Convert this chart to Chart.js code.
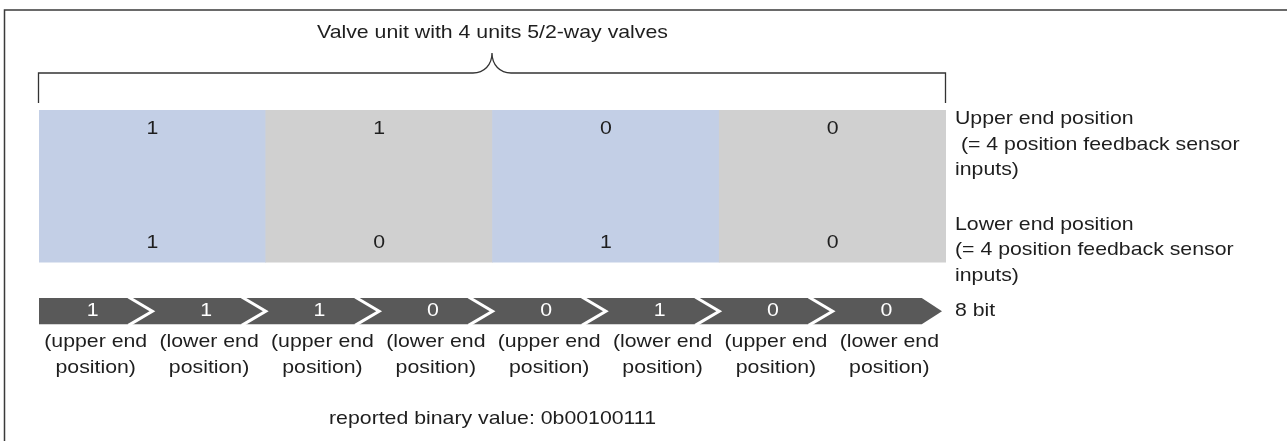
<!DOCTYPE html>
<html lang="en">
<head>
    <meta charset="UTF-8">
    <title>Valve unit position feedback</title>
    <script src="https://cdn.jsdelivr.net/npm/chart.js"></script>
    <style>
        html, body {
            margin: 0;
            padding: 0;
            background: #ffffff;
        }
        canvas {
            display: block;
        }
    </style>
</head>
<body>
    <canvas id="valveChart" width="1287" height="441"></canvas>

    <script>
        // chart data
        const valves = ['Valve 1', 'Valve 2', 'Valve 3', 'Valve 4'];
        const upperEnd = [1, 1, 0, 0];
        const lowerEnd = [1, 0, 1, 0];
        const bitValues = [1, 1, 1, 0, 0, 1, 0, 0];
        const bitLabels = [
            ['(upper end', 'position)'], ['(lower end', 'position)'],
            ['(upper end', 'position)'], ['(lower end', 'position)'],
            ['(upper end', 'position)'], ['(lower end', 'position)'],
            ['(upper end', 'position)'], ['(lower end', 'position)']
        ];
        const titleText = 'Valve unit with 4 units 5/2-way valves';
        const upperText = ['Upper end position', ' (= 4 position feedback sensor', 'inputs)'];
        const lowerText = ['Lower end position', '(= 4 position feedback sensor', 'inputs)'];
        const bitCountText = bitValues.length + ' bit';
        const reportedText = 'reported binary value: 0b' + bitValues.slice().reverse().join('');

        // look
        const valveColors = ['#c3cfe6', '#d0d0d0', '#c3cfe6', '#d0d0d0'];
        const bandColor = '#595959';
        const inkColor = '#1e1e1e';
        const FONT = '19px "Liberation Sans", Arial, sans-serif';
        const STRETCH = 1.12;
        const BAND_TOP = -0.47;      // y units
        const BAND_BOTTOM = -0.815;
        const CHEVRON = 24;          // px

        function drawText(ctx, str, x, y, align, color) {
            ctx.save();
            ctx.translate(x, y);
            ctx.scale(STRETCH, 1);
            ctx.font = FONT;
            ctx.textAlign = align;
            ctx.textBaseline = 'middle';
            ctx.fillStyle = color;
            ctx.fillText(str, 0, 0);
            ctx.restore();
        }

        const diagramPlugin = {
            id: 'diagram',
            afterDatasetsDraw(chart) {
                const ctx = chart.ctx;
                const area = chart.chartArea;
                const xs = chart.scales.x;
                const xb = chart.scales.xb;
                const ys = chart.scales.y;

                // outer frame (top + left)
                ctx.save();
                ctx.strokeStyle = '#3a3a3a';
                ctx.lineWidth = 1.5;
                ctx.beginPath();
                ctx.moveTo(4.5, chart.height);
                ctx.lineTo(4.5, 10);
                ctx.lineTo(chart.width, 10);
                ctx.stroke();
                ctx.restore();

                // brace over the valve unit
                const bl = area.left - 0.5, br = area.right - 0.5;
                const mid = (area.left + area.right) / 2 - 0.5;
                const by = area.top - 37, bEnd = area.top - 7;
                ctx.save();
                ctx.strokeStyle = '#333333';
                ctx.lineWidth = 1.3;
                ctx.beginPath();
                ctx.moveTo(bl, bEnd);
                ctx.lineTo(bl, by);
                ctx.lineTo(mid - 19, by);
                ctx.bezierCurveTo(mid - 8, by, mid, by - 8, mid, by - 20);
                ctx.bezierCurveTo(mid, by - 8, mid + 8, by, mid + 19, by);
                ctx.lineTo(br, by);
                ctx.lineTo(br, bEnd);
                ctx.stroke();
                ctx.restore();
                drawText(ctx, titleText, (area.left + area.right) / 2, area.top - 77, 'center', inkColor);

                // cell values
                valves.forEach((v, i) => {
                    const x = xs.getPixelForValue(i);
                    drawText(ctx, String(upperEnd[i]), x, ys.getPixelForValue(1.75), 'center', inkColor);
                    drawText(ctx, String(lowerEnd[i]), x, ys.getPixelForValue(0.25), 'center', inkColor);
                });

                // row descriptions
                const lx = area.right + 9;
                const lh = 25.5;
                upperText.forEach((t, k) => drawText(ctx, t, lx, ys.getPixelForValue(2) + 9 + k * lh, 'left', inkColor));
                lowerText.forEach((t, k) => drawText(ctx, t, lx, ys.getPixelForValue(0) - 38 + k * lh, 'left', inkColor));

                // bit arrow band
                const meta = chart.getDatasetMeta(2);
                const els = meta.data;
                const top = Math.min(els[0].y, els[0].base);
                const bottom = Math.max(els[0].y, els[0].base);
                const cy = (top + bottom) / 2;
                const first = els[0].x - els[0].width / 2;
                const lastEl = els[els.length - 1];
                const tip = lastEl.x + lastEl.width / 2 - 4;
                ctx.save();
                ctx.fillStyle = bandColor;
                ctx.beginPath();
                ctx.moveTo(first, top);
                ctx.lineTo(tip - (bottom - top) * 0.77, top);
                ctx.lineTo(tip, cy);
                ctx.lineTo(tip - (bottom - top) * 0.77, bottom);
                ctx.lineTo(first, bottom);
                ctx.closePath();
                ctx.fill();
                // white chevrons between bits
                ctx.strokeStyle = '#ffffff';
                ctx.lineWidth = 3;
                for (let i = 0; i < els.length - 1; i++) {
                    const b = els[i].x + els[i].width / 2;
                    ctx.beginPath();
                    ctx.moveTo(b - CHEVRON, top - 1);
                    ctx.lineTo(b, cy);
                    ctx.lineTo(b - CHEVRON, bottom + 1);
                    ctx.stroke();
                }
                ctx.restore();

                els.forEach((el, i) => {
                    drawText(ctx, String(bitValues[i]), el.x - 3, cy, 'center', '#ffffff');
                    const x = xb.getPixelForValue(i);
                    drawText(ctx, bitLabels[i][0], x, bottom + 17, 'center', inkColor);
                    drawText(ctx, bitLabels[i][1], x, bottom + 43, 'center', inkColor);
                });
                drawText(ctx, bitCountText, area.right + 9, cy, 'left', inkColor);

                drawText(ctx, reportedText, (area.left + area.right) / 2, bottom + 94, 'center', inkColor);
            }
        };

        const ctx = document.getElementById('valveChart').getContext('2d');
        new Chart(ctx, {
            type: 'bar',
            data: {
                labels: valves,
                datasets: [
                    {
                        label: 'Lower end position',
                        data: lowerEnd.map(() => [0, 1]),
                        backgroundColor: valveColors,
                        grouped: false
                    },
                    {
                        label: 'Upper end position',
                        data: upperEnd.map(() => [1, 2]),
                        backgroundColor: valveColors,
                        grouped: false
                    },
                    {
                        label: '8 bit',
                        xAxisID: 'xb',
                        data: bitValues.map(() => [BAND_BOTTOM, BAND_TOP]),
                        backgroundColor: 'rgba(0,0,0,0)',
                        grouped: false
                    }
                ]
            },
            options: {
                responsive: false,
                animation: false,
                barPercentage: 1,
                categoryPercentage: 1,
                borderWidth: 0,
                layout: {
                    padding: { left: 39, right: 341, top: 110, bottom: 114 }
                },
                plugins: {
                    legend: { display: false },
                    tooltip: { enabled: false }
                },
                scales: {
                    x: { display: false },
                    xb: {
                        type: 'category',
                        labels: bitValues.map((b, i) => 'bit ' + i),
                        display: false
                    },
                    y: { display: false, min: -0.85, max: 2 }
                }
            },
            plugins: [diagramPlugin]
        });
    </script>
</body>
</html>
